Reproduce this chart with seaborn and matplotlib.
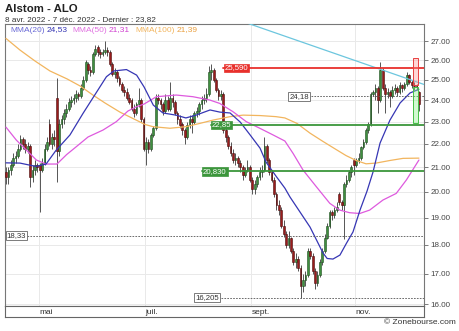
import matplotlib
matplotlib.use("Agg")
import matplotlib.pyplot as plt
import seaborn as sns
import numpy as np
from matplotlib.patches import Rectangle
from matplotlib.ticker import FixedLocator, FixedFormatter, NullLocator

# ---------------- data ----------------
opens = [20.8, 20.6, 20.9, 21.1, 21.4, 21.5, 21.8, 22.2, 22.0, 21.8,
         21.9, 20.6, 20.9, 21.1, 21.1, 20.9, 21.2, 21.8, 22.9, 22.0,
         22.3, 24.1, 21.7, 22.9, 23.1, 23.4, 23.6, 23.9, 24.0, 24.1,
         24.3, 24.2, 24.6, 25.0, 25.8, 25.5, 25.4, 26.3, 26.7, 26.4,
         26.3, 26.4, 26.5, 26.4, 25.8, 25.3, 25.4, 25.1, 24.8, 24.5,
         24.4, 24.1, 24.0, 23.6, 23.4, 23.8, 24.0, 23.1, 21.8, 22.1,
         21.8, 22.4, 22.7, 24.1, 24.0, 23.8, 23.5, 24.0, 23.6, 24.1,
         23.9, 23.4, 23.1, 22.9, 22.6, 22.3, 22.85, 23.1, 23.0, 23.4,
         23.5, 23.8, 24.0, 24.1, 24.3, 25.4, 25.5, 25.0, 24.5, 24.2,
         24.3, 22.6, 22.3, 21.9, 21.6, 21.3, 21.4, 21.2, 21.0, 20.7,
         20.9, 21.0, 20.5, 20.1, 20.3, 20.6, 20.8, 20.9, 21.9, 21.3,
         20.8, 20.5, 19.9, 19.5, 19.3, 18.7, 18.4, 18.0, 18.25, 17.8,
         17.4, 17.5, 17.2, 16.6, 16.8, 16.95, 17.8, 17.6, 17.1, 16.7,
         16.95, 17.4, 17.8, 18.25, 18.7, 19.2, 19.1, 19.3, 19.9, 19.6,
         19.5, 20.3, 20.5, 20.8, 21.3, 21.1, 21.3, 21.4, 21.85, 22.1,
         22.6, 22.9, 24.3, 24.4, 24.6, 24.0, 25.5, 24.6, 24.3, 24.4,
         24.2, 24.5, 24.6, 24.4, 24.75, 24.6, 24.8, 25.25, 24.9, 24.75,
         24.7, 24.4]
highs = [21.0, 21.0, 21.3, 21.6, 21.7, 22.0, 22.4, 22.3, 22.2, 22.1,
         22.0, 21.1, 21.3, 21.2, 21.2, 21.4, 22.0, 22.3, 23.1, 22.5,
         22.6, 25.1, 23.1, 23.3, 23.6, 23.8, 24.1, 24.2, 24.3, 24.5,
         24.4, 24.8, 25.2, 26.0, 25.9, 25.7, 26.4, 26.8, 26.8, 26.6,
         26.6, 27.0, 26.7, 26.5, 25.9, 25.6, 25.5, 25.2, 24.9, 24.7,
         24.6, 24.3, 24.1, 23.8, 23.9, 24.6, 24.1, 23.2, 22.3, 22.2,
         22.5, 22.8, 24.3, 24.3, 24.1, 23.9, 24.3, 24.2, 24.9, 24.3,
         24.0, 23.5, 23.3, 23.0, 22.7, 23.0, 23.3, 23.3, 23.5, 23.7,
         23.9, 24.2, 24.3, 24.6, 25.7, 25.8, 25.6, 25.1, 24.6, 24.5,
         24.4, 22.8, 22.4, 22.1, 21.8, 21.6, 21.5, 21.3, 21.1, 21.0,
         21.3, 21.1, 20.6, 20.5, 20.7, 21.0, 21.1, 22.3, 22.0, 21.4,
         20.9, 20.6, 20.0, 19.7, 19.4, 18.9, 18.5, 18.5, 18.3, 17.9,
         17.7, 17.6, 17.3, 17.0, 17.1, 17.9, 17.9, 17.7, 17.2, 17.1,
         17.5, 17.9, 18.4, 18.8, 19.3, 19.3, 19.4, 19.6, 20.0, 19.7,
         20.4, 20.7, 20.9, 21.1, 21.4, 21.4, 21.6, 21.9, 22.2, 22.7,
         23.0, 24.4, 24.5, 24.8, 24.7, 25.9, 25.6, 24.8, 24.6, 24.5,
         24.7, 24.8, 24.7, 24.9, 24.8, 24.9, 25.4, 25.3, 25.0, 24.9,
         24.8, 24.45]
lows = [20.3, 20.3, 20.7, 21.0, 21.2, 21.4, 21.7, 21.8, 21.6, 21.6,
        20.2, 20.4, 20.7, 20.8, 19.2, 20.8, 21.1, 21.7, 21.9, 21.8,
        21.9, 20.4, 21.5, 22.7, 22.9, 23.2, 23.5, 23.7, 23.8, 23.9,
        24.0, 24.1, 24.5, 24.9, 25.3, 25.2, 25.3, 26.2, 26.2, 26.1,
        26.2, 26.3, 26.2, 25.7, 25.2, 25.1, 24.9, 24.7, 24.4, 24.2,
        24.0, 23.8, 23.5, 23.2, 23.3, 23.7, 23.0, 21.7, 21.1, 21.6,
        21.7, 22.3, 22.6, 23.8, 23.6, 23.3, 23.4, 23.5, 23.5, 23.7,
        23.3, 22.9, 22.7, 22.4, 22.0, 22.2, 22.7, 22.5, 22.9, 23.2,
        23.3, 23.6, 23.8, 23.9, 24.2, 25.0, 24.9, 24.4, 24.0, 24.0,
        22.5, 22.1, 21.8, 21.5, 21.2, 21.1, 21.0, 20.8, 20.5, 20.6,
        20.8, 20.4, 19.9, 19.9, 20.2, 20.5, 20.6, 20.8, 21.2, 20.7,
        20.4, 19.8, 19.3, 19.1, 18.6, 18.3, 17.9, 17.9, 17.7, 17.3,
        17.2, 17.1, 16.205, 16.4, 16.6, 16.9, 17.5, 17.0, 16.5, 16.6,
        16.9, 17.3, 17.7, 18.2, 18.6, 18.9, 19.0, 19.2, 19.5, 19.3,
        18.2, 20.2, 20.4, 20.6, 20.7, 21.0, 21.2, 21.3, 21.8, 22.0,
        22.5, 22.8, 24.2, 24.0, 23.4, 23.9, 24.5, 23.4, 24.1, 23.7,
        24.1, 24.3, 24.2, 24.3, 24.4, 24.5, 24.7, 24.8, 24.6, 24.5,
        24.5, 23.5]
closes = [20.6, 20.9, 21.1, 21.4, 21.5, 21.8, 22.2, 22.0, 21.8, 21.9,
          20.6, 20.9, 21.1, 21.0, 20.9, 21.2, 21.8, 22.1, 22.0, 22.3,
          22.2, 21.7, 22.9, 23.1, 23.4, 23.6, 23.9, 24.0, 24.1, 24.3,
          24.2, 24.6, 25.0, 25.9, 25.5, 25.4, 26.3, 26.6, 26.4, 26.3,
          26.4, 26.5, 26.4, 25.8, 25.3, 25.4, 25.1, 24.8, 24.5, 24.4,
          24.1, 23.9, 23.6, 23.4, 23.8, 24.0, 23.1, 21.8, 22.1, 21.8,
          22.4, 22.7, 24.1, 24.0, 23.8, 23.5, 24.0, 23.6, 24.1, 23.9,
          23.4, 23.1, 22.85, 22.6, 22.3, 22.85, 23.1, 23.0, 23.4, 23.5,
          23.8, 24.0, 24.1, 24.3, 25.4, 25.5, 25.0, 24.5, 24.2, 24.3,
          22.6, 22.3, 21.9, 21.6, 21.3, 21.4, 21.2, 21.0, 20.7, 20.9,
          21.0, 20.5, 20.1, 20.3, 20.6, 20.8, 20.9, 21.9, 21.3, 20.8,
          20.5, 19.9, 19.5, 19.3, 18.7, 18.4, 18.0, 18.25, 17.8, 17.4,
          17.5, 17.2, 16.6, 16.8, 16.95, 17.8, 17.6, 17.1, 16.7, 16.95,
          17.4, 17.8, 18.25, 18.7, 19.2, 19.1, 19.3, 19.4, 19.6, 19.5,
          20.3, 20.5, 20.8, 21.0, 21.1, 21.3, 21.4, 21.85, 22.1, 22.6,
          22.9, 24.3, 24.4, 24.6, 24.0, 25.5, 24.6, 24.3, 24.4, 24.2,
          24.5, 24.6, 24.4, 24.75, 24.6, 24.8, 25.25, 24.9, 24.75, 24.7,
          24.65, 23.82]

ma20_idx = [0, 5.8, 12.4, 16.6, 20.7, 26.5, 31.9, 37.3, 41.6, 44.7, 49.9, 54.1,
            57.2, 61.0, 65.0, 70.4, 74.5, 78.7, 84.5, 88.6, 92.8, 97.0, 101.1,
            105.2, 107.7, 111.8, 115.5, 117.6, 121.8, 125.9, 128.8, 131.3, 133.0,
            135.4, 138.3, 141.0, 143.7, 146.6, 149.5, 152.0, 154.9, 159.0, 163.2,
            167.3, 171.0]
ma20_val = [21.19, 21.18, 21.04, 21.14, 21.72, 22.40, 23.38, 24.35, 25.15, 25.44,
            25.51, 25.23, 24.64, 23.77, 23.40, 23.30, 23.17, 23.30, 23.54, 23.44,
            23.40, 22.98, 22.40, 21.82, 21.22, 20.64, 20.15, 19.80, 19.21, 18.65,
            18.14, 17.71, 17.52, 17.50, 17.64, 18.06, 18.47, 19.29, 20.03, 20.81,
            22.04, 23.07, 23.87, 24.35, 24.53]

ma50_idx = [0, 4.3, 8.4, 12.6, 16.6, 21.1, 25.1, 29.1, 34.0, 40.2, 45.7, 50.5,
            54.0, 57.2, 62.3, 70.5, 77.4, 84.4, 88.5, 94.0, 99.5, 105.1, 110.6,
            115.5, 118.9, 123.0, 128.5, 134.1, 138.2, 142.3, 146.5, 150.6, 156.1,
            161.6, 165.8, 171.0]
ma50_val = [22.75, 22.17, 21.74, 21.31, 21.14, 21.14, 21.54, 21.88, 22.31, 22.62,
            23.00, 23.49, 23.69, 23.82, 24.17, 24.25, 24.17, 24.01, 23.85, 23.46,
            23.00, 22.70, 22.40, 22.13, 21.59, 20.89, 20.21, 19.55, 19.29, 19.19,
            19.16, 19.29, 19.68, 19.94, 20.48, 21.31]

ma100_idx = [0, 5.8, 12.0, 18.2, 25.3, 30.7, 36.0, 41.0, 47.2, 53.4, 57.6, 60.9,
             67.9, 74.5, 80.3, 85.7, 92.8, 98.2, 105.2, 111.8, 115.5, 120.5,
             125.9, 131.3, 136.7, 140.8, 145.0, 149.1, 153.2, 159.0, 164.4, 171.0]
ma100_val = [27.14, 26.52, 25.95, 25.44, 25.04, 24.69, 24.25, 23.87, 23.44, 23.10,
             22.87, 22.77, 22.70, 22.77, 22.92, 23.07, 23.23, 23.30, 23.28, 23.23,
             23.17, 22.92, 22.48, 22.11, 21.76, 21.50, 21.29, 21.15, 21.18, 21.29,
             21.38, 21.39]

trend_idx = [95, 173]
trend_val = [28.21, 24.77]

month_labels = ["mai", "juil.", "sept.", "nov."]
month_idx = [14, 58, 102, 145]
price_ticks = [16, 17, 18, 19, 20, 21, 22, 23, 24, 25, 26, 27]
tick_labels = ["16.00", "17.00", "18.00", "19.00", "20.00", "21.00",
               "22.00", "23.00", "24.00", "25.00", "26.00", "27.00"]

resistance = 25.59
supports = [22.85, 20.83]
support_labels = ["22,85", "20,830"]
dashed_levels = [24.18, 18.33, 16.205]
dashed_labels = ["24,18", "18,33", "16,205"]
red_zone = (24.75, 26.09)
green_zone = (22.93, 24.65)

title = "Alstom - ALO"
subtitle = "8 avr. 2022 - 7 déc. 2022 - Dernier : 23,82"
legend_names = ["MMA(20)", "MMA(50)", "MMA(100)"]
legend_values = ["24,53", "21,31", "21,39"]

# ---------------- style ----------------
sns.set_style("white")
plt.rcParams['font.family'] = ['Liberation Sans', 'DejaVu Sans']

W, H = 460, 331
fig = plt.figure(figsize=(W / 100, H / 100), dpi=100)
fig.patch.set_facecolor("white")

def fx(x):
    return x / W

def fy(y):
    return 1 - y / H

ax = fig.add_axes([fx(5), fy(306), 419 / W, 282 / H])
ax_s = fig.add_axes([fx(5), fy(317), 419 / W, 11 / H])

XMIN, XMAX = -0.4, 173.1
ax.set_yscale("log")
ax.set_xlim(XMIN, XMAX)
ax.set_ylim(15.94, 27.93)

# grid
for p in price_ticks:
    ax.axhline(p, color="#e9e9e9", lw=0.7, zorder=0)
for m in month_idx:
    ax.axvline(m - 0.5, color="#e9e9e9", lw=0.7, zorder=0)

# candles
idx = np.arange(len(closes))
o = np.array(opens); c = np.array(closes)
h = np.array(highs); l = np.array(lows)
ax.vlines(idx, l, h, color="#3a3a3a", lw=0.6, zorder=2)
up = c >= o
bot = np.minimum(o, c)
hgt = np.maximum(np.abs(c - o), 0.04)
ax.bar(idx[up], hgt[up], bottom=bot[up], width=0.72, color="#3f8f3f",
       edgecolor="#1e4d1e", linewidth=0.4, zorder=3)
ax.bar(idx[~up], hgt[~up], bottom=bot[~up], width=0.72, color="#9a1c1c",
       edgecolor="#4a0c0c", linewidth=0.4, zorder=3)

# moving averages
sns.lineplot(x=ma100_idx, y=ma100_val, ax=ax, color="#f2b55e", lw=0.9, zorder=4)
sns.lineplot(x=ma50_idx, y=ma50_val, ax=ax, color="#de5ade", lw=0.9, zorder=4)
sns.lineplot(x=ma20_idx, y=ma20_val, ax=ax, color="#3636b4", lw=0.9, zorder=4)

# trend line
sns.lineplot(x=trend_idx, y=trend_val, ax=ax, color="#6cc6de", lw=0.9, zorder=4)

# level lines
RED = "#e8302c"
GREEN = "#3c963c"
ax.plot([89.9, XMAX], [resistance] * 2, color=RED, lw=1.3, zorder=5)
ax.text(95.5, resistance, "25,590", ha="center", va="center", fontsize=5.6,
        color="white", zorder=7,
        bbox=dict(boxstyle="square,pad=0.12", fc=RED, ec=RED, lw=0.5))
sup_starts = [84.9, 81.2]
sup_centers = [89.2, 86.5]
for lev, lab, s0, cx in zip(supports, support_labels, sup_starts, sup_centers):
    ax.plot([s0, XMAX], [lev] * 2, color=GREEN, lw=1.3, zorder=5)
    ax.text(cx, lev, lab, ha="center", va="center", fontsize=5.6, color="white",
            zorder=7, bbox=dict(boxstyle="square,pad=0.12", fc=GREEN, ec=GREEN, lw=0.5))
dash_starts = [126.3, 8.7, 89.0]
dash_centers = [121.4, 4.3, 83.2]
for lev, lab, s0, cx in zip(dashed_levels, dashed_labels, dash_starts, dash_centers):
    ax.plot([s0, XMAX], [lev] * 2, color="#555555", lw=0.6, ls=(0, (2, 1.5)), zorder=5)
    ax.text(cx, lev, lab, ha="center", va="center", fontsize=5.6, color="#333333",
            zorder=7, bbox=dict(boxstyle="square,pad=0.12", fc="white", ec="#666666", lw=0.6))

# zones on the right
ax.add_patch(Rectangle((168.7, red_zone[0]), 1.9, red_zone[1] - red_zone[0],
                       facecolor=(1, 0.55, 0.55, 0.35), edgecolor="#e84040", lw=0.7, zorder=6))
ax.add_patch(Rectangle((168.7, green_zone[0]), 1.9, green_zone[1] - green_zone[0],
                       facecolor=(0.55, 0.95, 0.55, 0.4), edgecolor="#44c044", lw=0.7, zorder=6))

# axes styling
ax.yaxis.tick_right()
ax.yaxis.set_major_locator(FixedLocator(price_ticks))
ax.yaxis.set_major_formatter(FixedFormatter(tick_labels))
ax.yaxis.set_minor_locator(NullLocator())
ax.tick_params(axis="y", which="major", length=3, width=0.6, color="#666666",
               labelsize=5.8, labelcolor="#444444", pad=1.5, direction="out")
ax.set_xticks([])
ax.set_xlabel("")
ax.set_ylabel("")
for sp in ax.spines.values():
    sp.set_color("#777777")
    sp.set_linewidth(0.8)
    sp.set_visible(True)

ax_s.set_xlim(XMIN, XMAX)
ax_s.set_ylim(0, 1)
ax_s.set_xticks([])
ax_s.set_yticks([])
for sp in ax_s.spines.values():
    sp.set_color("#666666")
    sp.set_linewidth(0.8)
    sp.set_visible(True)
for lab, m in zip(month_labels, month_idx):
    ax_s.text(m - 0.3, 0.45, lab, ha="left", va="center", fontsize=6, color="#333333")

# header texts
fig.text(fx(5), fy(9), title, ha="left", va="center", fontsize=8.2,
         fontweight="bold", color="#222222")
fig.text(fx(5), fy(19.5), subtitle, ha="left", va="center", fontsize=5.9,
         color="#333333")
leg_colors_name = ["#6a6ad6", "#e070e0", "#f2b55e"]
leg_colors_val = ["#3636b4", "#d040d0", "#eaa040"]
name_x = [10, 72.7, 135]
val_x = [46.7, 108.3, 176.7]
for nm, vl, cn, cv, xn, xv in zip(legend_names, legend_values, leg_colors_name,
                                  leg_colors_val, name_x, val_x):
    fig.text(fx(xn), fy(30), nm, ha="left", va="center", fontsize=6, color=cn)
    fig.text(fx(xv), fy(30), vl, ha="left", va="center", fontsize=6, color=cv)

fig.text(fx(456), fy(323), "© Zonebourse.com", ha="right", va="center",
         fontsize=6, color="#333333")

fig.savefig("out.png", dpi=100, facecolor="white")
